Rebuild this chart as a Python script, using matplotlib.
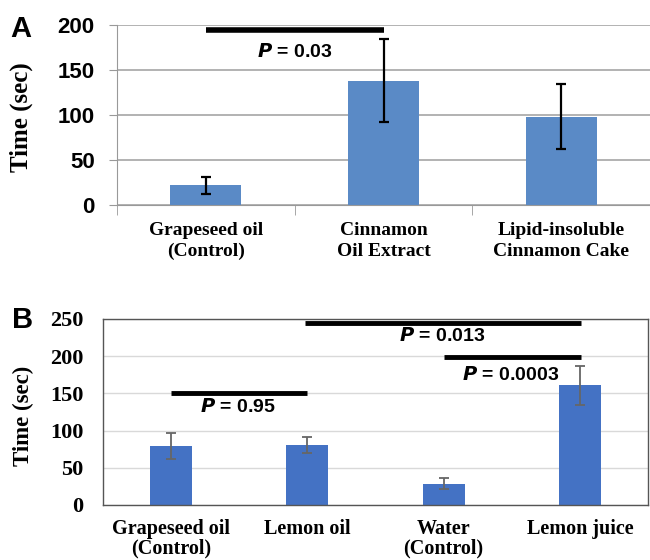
import numpy as np
import matplotlib
matplotlib.use("Agg")
import matplotlib.pyplot as plt

# panel A: cinnamon
cats_a = ["Grapeseed oil\n(Control)", "Cinnamon\nOil Extract", "Lipid-insoluble\nCinnamon Cake"]
time_a = [22, 138, 98]
err_a = [9.5, 46, 36]
sig_a = [(0, 1, 194, 0.5, 170, "0.03")]

# panel B: lemon
cats_b = ["Grapeseed oil\n(Control)", "Lemon oil", "Water\n(Control)", "Lemon juice"]
time_b = [79, 81, 28.5, 161]
err_b = [17.5, 11, 7.5, 26.5]
sig_b = [(0, 1, 151, 0.49, 132, "0.95"),
         (0.98, 3.01, 245, 1.99, 227, "0.013"),
         (2.0, 3.01, 199, 2.49, 175, "0.0003")]

serif = "Liberation Serif"
sans = "Liberation Sans"

fig = plt.figure(figsize=(6.5, 5.6), dpi=100)


def add_sig(ax, sigs, lw):
    for x0, x1, y, tx, ty, p in sigs:
        ax.plot([x0, x1], [y, y], color="black", lw=lw, solid_capstyle="butt", clip_on=False)
        ax.text(tx, ty, r"$\bfit{P}$" + " = " + p, ha="center", va="center",
                fontsize=14, fontweight="bold", family=sans)


# ---- A ----
axa = fig.add_axes([117 / 650, 1 - 205 / 560, 533 / 650, 180 / 560])
xa = np.arange(len(cats_a))
axa.bar(xa, time_a, width=0.4, color="#5A8AC6", zorder=2)
axa.errorbar(xa, time_a, yerr=err_a, fmt="none", ecolor="black", elinewidth=1.6,
             capsize=3.5, capthick=1.6, zorder=3)
axa.set_xlim(-0.5, -0.5 + 533 / 179.6)
axa.set_ylim(0, 200)
axa.set_yticks([0, 50, 100, 150, 200])
axa.yaxis.grid(True, color="#A6A6A6", lw=1.2, zorder=0)
for s in ["top", "right"]:
    axa.spines[s].set_visible(False)
axa.spines["left"].set_color("#999999")
axa.spines["bottom"].set_color("#999999")
axa.tick_params(axis="y", length=6, color="#999999", labelsize=16, pad=10)
for lab in axa.get_yticklabels():
    lab.set_fontweight("bold")
    lab.set_family(sans)
axa.set_xticks(xa)
axa.set_xticklabels(cats_a, fontsize=14, fontweight="bold", family=serif, linespacing=1.3)
axa.set_xticks([-0.5, 0.5, 1.5, 2.5], minor=True)
axa.tick_params(axis="x", which="major", length=0, pad=12)
axa.tick_params(axis="x", which="minor", length=7, color="#999999")
add_sig(axa, sig_a, 4)
fig.text(21 / 650, 1 - 117 / 560, "Time (sec)", rotation=90, ha="center", va="center",
         fontsize=18, fontweight="bold", family=serif)
fig.text(10 / 650, 1 - 29 / 560, "A", ha="left", va="center", fontsize=21,
         fontweight="bold", family=sans)

# ---- B ----
axb = fig.add_axes([103 / 650, 1 - 505 / 560, 545 / 650, 186 / 560])
xb = np.arange(len(cats_b))
axb.bar(xb, time_b, width=0.31, color="#4472C4", zorder=2)
axb.errorbar(xb, time_b, yerr=err_b, fmt="none", ecolor="#666666", elinewidth=1.3,
             capsize=3.5, capthick=1.3, zorder=3)
axb.set_xlim(-0.5, 3.5)
axb.set_ylim(0, 250)
axb.set_yticks([0, 50, 100, 150, 200, 250])
axb.yaxis.grid(True, color="#D9D9D9", lw=1.0, zorder=0)
for s in axb.spines.values():
    s.set_color("#555555")
    s.set_linewidth(1.0)
axb.tick_params(axis="y", length=0, labelsize=16, pad=14)
for lab in axb.get_yticklabels():
    lab.set_fontweight("bold")
    lab.set_family(serif)
axb.set_xticks(xb)
axb.set_xticklabels(cats_b, fontsize=14.5, fontweight="bold", family=serif, linespacing=0.95)
axb.tick_params(axis="x", length=0, pad=10)
add_sig(axb, sig_b, 3.5)
fig.text(23 / 650, 1 - 416 / 560, "Time (sec)", rotation=90, ha="center", va="center",
         fontsize=16.5, fontweight="bold", family=serif)
fig.text(12 / 650, 1 - 320 / 560, "B", ha="left", va="center", fontsize=21,
         fontweight="bold", family=sans)

fig.savefig("out.png", dpi=100)
